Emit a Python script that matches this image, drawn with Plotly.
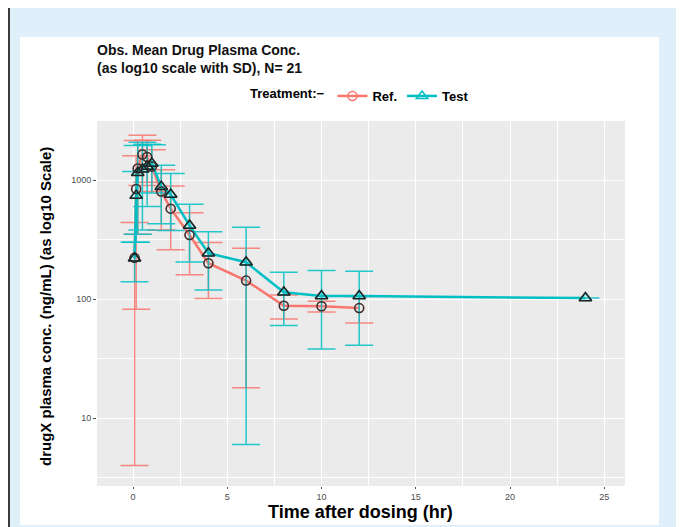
import plotly.graph_objects as go

# ---------------- data ----------------
time_ref = [0.083, 0.167, 0.25, 0.5, 0.75, 1, 1.5, 2, 3, 4, 6, 8, 10, 12]
ref_mean = [222, 840, 1250, 1640, 1560, 1300, 800, 575, 345, 200, 143, 88, 87, 84]
ref_sd = [218, 758, 900, 740, 600, 500, 420, 315, 185, 99, 125, 20, 9, 21]

time_test = [0.083, 0.167, 0.25, 0.5, 0.75, 1, 1.5, 2, 3, 4, 6, 8, 10, 12, 24]
test_mean = [220, 740, 1150, 1230, 1300, 1380, 880, 756, 415, 243, 204, 114, 106, 106, 102]
test_sd = [80, 440, 800, 850, 700, 600, 450, 380, 210, 124, 198, 54, 68, 65, None]

x_ticks = [0, 5, 10, 15, 20, 25]
y_ticks = [10, 100, 1000]
y_tick_labels = ["10", "100", "1000"]

RED = "#F8766D"
CYAN = "#00BFC4"
FONT = "Liberation Sans, Arial, sans-serif"

# The page body has an 8 px margin, so the figure is drawn 8 px in from
# the window corner; all positions below are given in window pixels.
OFF = 8
W, H = 684 - OFF, 527 - OFF
PLOT_L, PLOT_R, PLOT_T, PLOT_B = 97, 625, 121, 486          # window pixels
L, R, T, B = PLOT_L - OFF, W - (PLOT_R - OFF), PLOT_T - OFF, H - (PLOT_B - OFF)
PW, PH = PLOT_R - PLOT_L, PLOT_B - PLOT_T


def px(x):
    return (x - PLOT_L) / PW


def py(y):
    return (PLOT_B - y) / PH


fig = go.Figure()

fig.add_trace(go.Scatter(
    x=time_ref, y=ref_mean, name="Ref.", mode="lines+markers",
    line=dict(color=RED, width=2.5),
    marker=dict(symbol="circle-open", size=9, color=RED, line=dict(width=1.5)),
    error_y=dict(type="data", array=ref_sd, visible=True,
                 color="rgba(248,118,109,0.85)", thickness=1.5, width=14),
))
fig.add_trace(go.Scatter(
    x=time_test, y=test_mean, name="Test", mode="lines+markers",
    line=dict(color=CYAN, width=2.5),
    marker=dict(symbol="triangle-up-open", size=10, color=CYAN, line=dict(width=1.5)),
    error_y=dict(type="data", array=test_sd, visible=True,
                 color="rgba(0,191,196,0.85)", thickness=1.5, width=14),
))
# dark outlines of the points
fig.add_trace(go.Scatter(
    x=time_ref, y=ref_mean, mode="markers", showlegend=False, hoverinfo="skip",
    marker=dict(symbol="circle-open", size=9, color="#333333", line=dict(width=1.5)),
))
fig.add_trace(go.Scatter(
    x=time_test, y=test_mean, mode="markers", showlegend=False, hoverinfo="skip",
    marker=dict(symbol="triangle-up-open", size=11, color="#222222", line=dict(width=1.5)),
))

# frame around the figure: light blue band, with dark left/right border strokes
outer = (f"M {px(9)},{py(0)} L {px(679)},{py(0)} "
         f"L {px(679)},{py(540)} L {px(9)},{py(540)} Z")
inner = (f"M {px(20)},{py(37)} L {px(659)},{py(37)} "
         f"L {px(659)},{py(525)} L {px(20)},{py(525)} Z")

shapes = [
    dict(type="path", xref="paper", yref="paper", path=outer + " " + inner,
         fillcolor="#DFF0FA", line=dict(width=0), layer="above"),
    dict(type="rect", xref="paper", yref="paper", x0=px(8), x1=px(10),
         y0=py(0), y1=py(540), fillcolor="#3c3c3c", line=dict(width=0), layer="above"),
    dict(type="rect", xref="paper", yref="paper", x0=px(677), x1=px(679),
         y0=py(0), y1=py(540), fillcolor="#3c3c3c", line=dict(width=0), layer="above"),
]

annotations = [
    dict(text="<b>drugX plasma conc. (ng/mL) (as log10 Scale)</b>", textangle=-90,
         xref="paper", yref="paper", x=px(45), y=py(307), showarrow=False,
         xanchor="center", yanchor="middle", borderpad=0,
         font=dict(size=15, color="#000", family=FONT)),
    dict(text="<b>Time after dosing (hr)</b>",
         xref="paper", yref="paper", x=px(360), y=py(512), showarrow=False,
         xanchor="center", yanchor="middle", borderpad=0,
         font=dict(size=18, color="#000", family=FONT)),
]

fig.update_layout(
    width=W, height=H,
    margin=dict(l=L, r=R, t=T, b=B, pad=0),
    paper_bgcolor="white",
    plot_bgcolor="#EBEBEB",
    font=dict(family=FONT),
    title=dict(text="<b>Obs. Mean Drug Plasma Conc.<br>(as log10 scale with SD), N= 21</b>",
               xref="paper", x=0, xanchor="left",
               yref="container", y=1 - (55 - OFF) / H, yanchor="top",
               font=dict(size=14, color="#111", family=FONT)),
    legend=dict(orientation="h", x=0.5, xanchor="center", y=py(96), yanchor="middle",
                title=dict(text="<b>Treatment:−</b>", font=dict(size=13, color="#000")),
                font=dict(size=13, color="#000", family=FONT, weight="bold"),
                bgcolor="rgba(0,0,0,0)", itemwidth=30, tracegroupgap=0),
    shapes=shapes,
    annotations=annotations,
    showlegend=True,
)

fig.update_xaxes(
    range=[-1.91, 26.1], tickvals=x_ticks, ticktext=[str(v) for v in x_ticks],
    showgrid=True, gridcolor="white", gridwidth=1.1, zeroline=False,
    ticks="outside", ticklen=2, tickcolor="#4d4d4d", tickwidth=1,
    tickfont=dict(size=9, color="#4d4d4d"), showline=False,
    minor=dict(tickvals=[2.5, 7.5, 12.5, 17.5, 22.5], showgrid=True,
               gridcolor="white", gridwidth=0.5, ticks=""),
)
fig.update_yaxes(
    type="log", range=[0.43, 3.496], tickvals=y_ticks, ticktext=y_tick_labels,
    showgrid=True, gridcolor="white", gridwidth=1.1, zeroline=False,
    ticks="outside", ticklen=3, tickcolor="#4d4d4d", tickwidth=1,
    tickfont=dict(size=9, color="#4d4d4d"), showline=False,
    minor=dict(tickvals=[10 ** 0.5, 10 ** 1.5, 10 ** 2.5, 10 ** 3.5], showgrid=True,
               gridcolor="white", gridwidth=0.5, ticks=""),
)

fig.write_html("out.html")
